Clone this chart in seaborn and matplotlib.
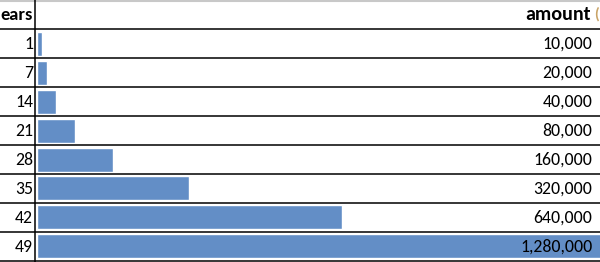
import matplotlib
matplotlib.use("Agg")
import matplotlib.pyplot as plt
import seaborn as sns
import pandas as pd
from matplotlib.transforms import blended_transform_factory

years = [1, 7, 14, 21, 28, 35, 42, 49]
amounts = [10000, 20000, 40000, 80000, 160000, 320000, 640000, 1280000]
amount_labels = ["10,000", "20,000", "40,000", "80,000", "160,000", "320,000", "640,000", "1,280,000"]
header_left = "ears"
header_right = "amount"

df = pd.DataFrame({"years": [str(y) for y in years], "amount": amounts})

sns.set_theme(style="white")
plt.rcParams["font.family"] = ["Carlito", "Lato", "DejaVu Sans"]

W, H = 600, 262
fig = plt.figure(figsize=(W / 100, H / 100), dpi=100)
ax = fig.add_axes([0, 0, 1, 1])

sns.barplot(data=df, x="amount", y="years", order=df["years"], orient="h",
            color="#638EC6", saturation=1, width=24 / 29, ax=ax)

scale = 0.000476  # pixels per unit
ax.set_xlim(-37 / scale, (W - 37) / scale)
ax.set_ylim(H / 29 - 1.5, -1.5)
ax.axis("off")


def px_x(p):
    return -37 / scale + p / scale


tr = blended_transform_factory(fig.transFigure, ax.transData)

# grid lines
for k in range(1, 10):
    ax.axhline(k - 1.5, color="black", lw=1.1, zorder=5)
ax.axhline(-1.5 + 0.5 / 29, color="#c8c8c8", lw=1.5, zorder=5)
ax.axvline(px_x(35.5), color="black", lw=1.1, zorder=5)

fs = 12.8
for i, (y, lab) in enumerate(zip(years, amount_labels)):
    ax.text(33 / W, i + 0.02, str(y), transform=tr, ha="right", va="center",
            fontsize=fs, color="black", zorder=6)
    ax.text(592.5 / W, i + 0.02, lab, transform=tr, ha="right", va="center",
            fontsize=fs, color="black", zorder=6)

ax.text(33 / W, -1, header_left, transform=tr, ha="right", va="center",
        fontsize=13.2, fontweight="bold", color="black", zorder=6)
ax.text(591 / W, -1, header_right, transform=tr, ha="right", va="center",
        fontsize=14.5, fontweight="bold", color="black", zorder=6)
ax.text(594 / W, -1, "(", transform=tr, ha="left", va="center",
        fontsize=11, fontweight="bold", color="#C9A468", zorder=6)

fig.savefig("out.png", dpi=100)
